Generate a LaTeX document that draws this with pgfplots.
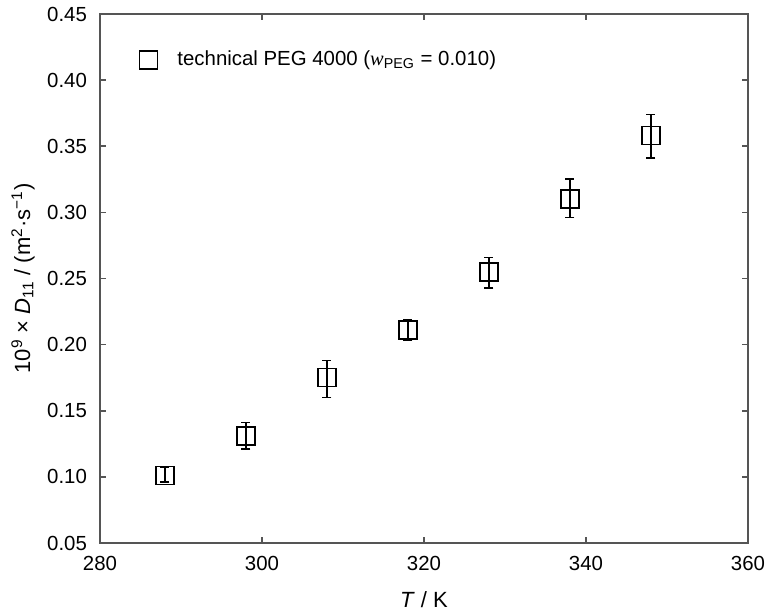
\documentclass[border=0pt]{standalone}
\usepackage{fontspec}
\setmainfont{Liberation Sans}
\newfontfamily\timesf{Liberation Serif}
\usepackage{pgfplots}
\pgfplotsset{compat=1.18}
\usetikzlibrary{calc}
\definecolor{axgray}{RGB}{85,85,85}

\begin{document}
\begin{tikzpicture}
\begin{axis}[
    width=324pt, height=264.5pt,
    scale only axis,
    xmin=280, xmax=360,
    ymin=0.05, ymax=0.45,
    xtick={280,300,...,360},
    ytick={0.05,0.10,...,0.46},
    tick align=inside,
    major tick length=3pt,
    axis line style={axgray, line width=1pt},
    every tick/.style={axgray, line width=0.8pt},
    font=\fontsize{10.2}{12}\selectfont,
    /pgf/number format/assume math mode=true,
    yticklabel style={xshift=-3pt, /pgf/number format/.cd, fixed, fixed zerofill, precision=2},
    xticklabel style={yshift=-3pt, /pgf/number format/.cd, 1000 sep={}},
    xlabel={\textit{T} / K},
    ylabel={10\textsuperscript{9} × \textit{D}\textsubscript{11} / (m\textsuperscript{2}·s\textsuperscript{−1})},
    label style={font=\fontsize{11}{13}\selectfont},
    xlabel style={at={(axis description cs:0.5,-0.1078)}, anchor=center},
    ylabel style={at={(axis description cs:-0.1188,0.5)}, anchor=center},
    legend style={draw=none, fill=none, at={(rel axis cs:0.051,0.946)}, anchor=north west,
        font=\fontsize{10.2}{12}\selectfont, legend cell align=left},
    legend image code/.code={
        \path[draw=none] (0,0) -- (17pt,0);
        \draw[only marks] plot coordinates {(4.5pt,0pt)};},
]
\addplot[black, only marks, mark=square, mark size=4.5pt, line width=0.8pt,
    error bars/.cd, y dir=both, y explicit,
    error bar style={line width=0.8pt},
    error mark options={rotate=90, mark size=2.3pt, line width=0.8pt}]
  table[x=T, y=D, y error plus=ep, y error minus=em] {
    T   D      ep     em
    288 0.101  0.006  0.005
    298 0.131  0.010  0.010
    308 0.175  0.013  0.015
    318 0.211  0.008  0.008
    328 0.255  0.011  0.012
    338 0.310  0.015  0.014
    348 0.358  0.016  0.017
  };
\addlegendentry{technical PEG 4000 ({\timesf\itshape w}\textsubscript{PEG} = 0.010)}
\coordinate (sw) at (rel axis cs:0,0);
\coordinate (ne) at (rel axis cs:1,1);
\end{axis}
\pgfresetboundingbox
\path[use as bounding box] ($(sw)+(-50pt,-34.5pt)$) rectangle ($(ne)+(9pt,7pt)$);
\end{tikzpicture}
\end{document}
